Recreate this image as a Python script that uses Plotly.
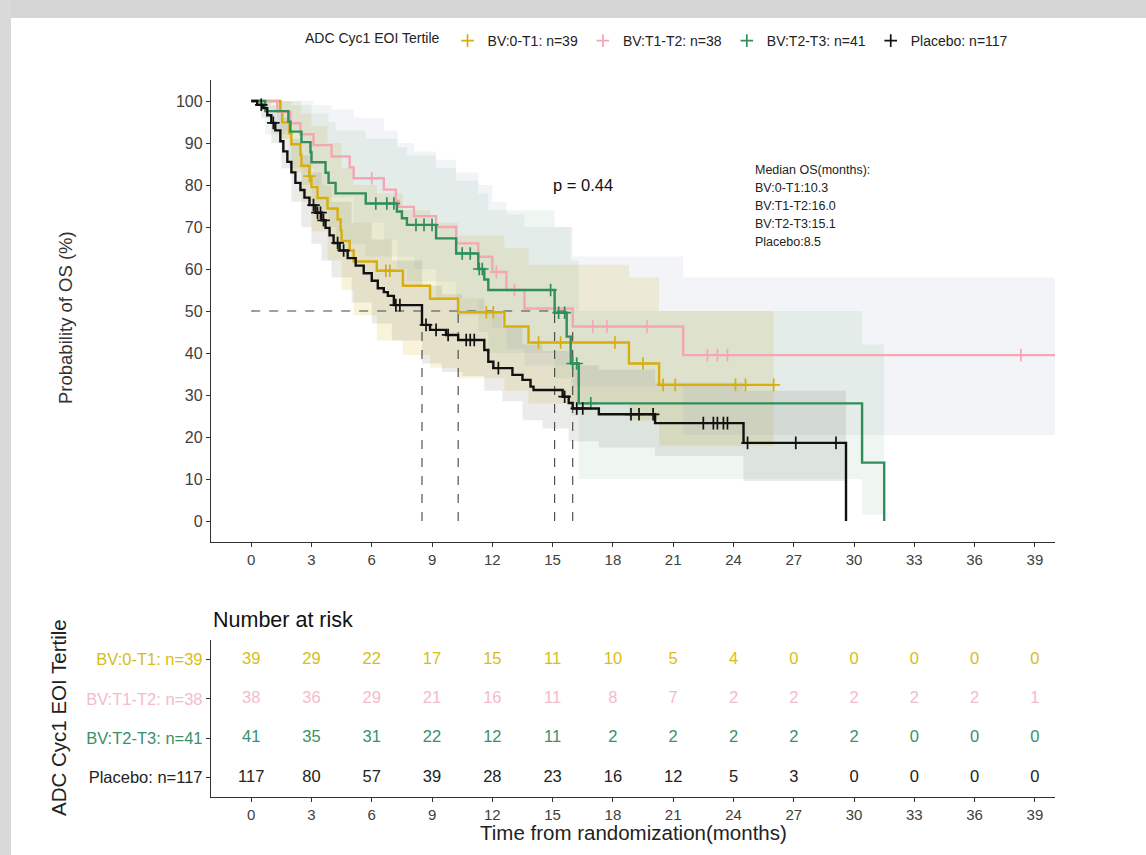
import numpy as np
import plotly.graph_objects as go

W, H = 1146, 855

# ---------------- survival data (months, % surviving) ----------------
groups = ["BV:0-T1: n=39", "BV:T1-T2: n=38", "BV:T2-T3: n=41", "Placebo: n=117"]
line_colors = ["#D8AE0C", "#F4A6B7", "#2F8F5B", "#111111"]
band_colors = ["rgba(225,190,60,0.19)", "rgba(170,174,195,0.14)",
               "rgba(80,150,100,0.09)", "rgba(90,90,80,0.12)"]
risk_colors = ["#D6BE16", "#F3BCC9", "#3A9068", "#222222"]

# BV:0-T1
t_low = [0, 1.45, 1.55, 1.9, 2.0, 2.45, 2.5, 2.9, 3.0, 3.3, 3.8, 4.3, 4.45, 4.5,
         4.9, 5.1, 6.25, 7.55, 8.9, 10.3, 12.6, 13.8, 18.8, 20.3]
s_low = [100, 97.4, 94.9, 92.3, 89.7, 87.2, 84.6, 82.1, 79.5, 76.9, 74.4, 71.8, 69.2, 66.7,
         64.4, 61.8, 59.6, 56.0, 52.9, 49.7, 46.3, 42.5, 37.5, 32.4]
end_low = 26.0
cens_low = [2.9, 6.7, 6.9, 11.7, 12.05, 14.3, 15.4, 18.1, 19.5, 20.5, 21.1, 24.1, 24.6, 26.0]

# BV:T1-T2
t_mid = [0, 1.3, 1.95, 2.45, 3.1, 4.0, 4.9, 5.1, 6.6, 7.2, 7.35, 8.1, 9.2, 10.2,
         11.3, 12.0, 12.7, 13.6, 16.0, 21.5]
s_mid = [100, 97.4, 94.7, 92.1, 89.5, 86.8, 84.2, 81.6, 78.9, 76.2, 74.8, 72.6, 70.0, 66.1,
         62.9, 59.3, 55.0, 50.6, 46.3, 39.5]
end_mid = 40.4
cens_mid = [6.0, 12.2, 13.1, 17.0, 17.7, 19.7, 22.7, 23.2, 23.7, 38.3, 40.4]

# BV:T2-T3
t_high = [0, 0.7, 1.85, 1.95, 2.5, 2.95, 3.0, 3.7, 3.85, 4.2, 5.7, 7.25, 7.5, 7.75,
          9.2, 10.2, 11.3, 11.6, 11.8, 15.1, 15.7, 15.9, 16.3, 30.4, 31.5]
s_high = [100, 97.6, 95.1, 92.7, 90.2, 87.8, 85.4, 82.9, 80.5, 78.0, 75.6, 73.7, 72.1, 70.5,
          67.3, 63.7, 60.0, 57.5, 55.0, 49.6, 43.9, 37.5, 28.0, 13.9, 0]
end_high = 31.5
cens_high = [6.2, 6.75, 7.1, 8.2, 8.6, 9.0, 10.5, 10.9, 11.35, 11.5, 14.9, 15.3, 15.6,
             16.0, 16.2, 16.9]

# Placebo
t_pbo = [0, 0.3, 0.6, 0.8, 1.0, 1.2, 1.45, 1.6, 1.8, 2.0, 2.2, 2.45, 2.65, 2.9, 3.2, 3.5,
         3.7, 3.9, 4.1, 4.4, 4.8, 5.2, 5.6, 6.0, 6.3, 6.6, 6.8, 7.1, 8.5, 8.9, 9.7, 10.3,
         11.6, 11.8, 12.05, 13.0, 13.5, 13.9, 14.05, 15.5, 15.8, 16.0, 17.3, 20.1, 24.5, 29.6]
s_pbo = [100, 99.1, 98.3, 96.6, 94.8, 93.0, 90.4, 88.0, 85.5, 83.0, 80.5, 78.8, 77.0, 75.2,
         73.4, 71.6, 69.8, 68.0, 66.2, 64.4, 62.6, 60.8, 59.0, 57.2, 55.4, 54.5, 53.6, 51.4,
         46.7, 45.5, 44.3, 43.1, 40.7, 37.9, 36.4, 34.8, 33.6, 32.0, 31.2, 29.6, 28.1, 26.8,
         25.4, 23.3, 18.6, 0]
end_pbo = 29.6
cens_pbo = [0.5, 1.1, 3.1, 3.3, 3.45, 3.6, 4.3, 4.6, 7.2, 7.4, 8.7, 9.2, 9.8, 10.7, 10.9,
            11.1, 12.3, 15.6, 16.2, 16.5, 18.9, 19.3, 20.0, 22.5, 23.0, 23.2, 23.5, 23.7,
            24.7, 27.1, 29.1]

# 95% confidence bands (step start, lower, upper)
ci_low_t = [0, 1.45, 2.0, 2.5, 3.0, 3.8, 4.5, 5.1, 6.25, 7.55, 8.9, 10.3, 12.6, 13.8, 18.8, 20.3]
ci_low_lo = [100, 91, 83, 76, 69, 62, 55, 49, 43, 39.5, 36.5, 34, 31, 28, 24, 18]
ci_low_hi = [100, 100, 99, 97, 94, 90, 84, 80, 78, 74, 71, 68, 65, 61, 58, 50]

ci_mid_t = [0, 1.3, 2.5, 3.1, 4.0, 5.1, 6.6, 7.3, 8.1, 9.2, 10.2, 11.3, 12.0, 12.7, 13.6, 16.0, 21.5]
ci_mid_lo = [100, 93, 84, 80, 77, 71, 67, 63, 60, 57, 53, 49, 46, 41, 37, 32, 20.5]
ci_mid_hi = [100, 100, 100, 99, 98, 96, 93, 90, 88, 86, 83, 80, 76, 73, 70, 63, 58]

ci_high_t = [0, 0.7, 1.9, 2.5, 3.0, 3.85, 4.2, 5.7, 7.25, 7.75, 9.2, 10.2, 11.3, 11.8, 15.1,
             15.9, 16.3, 30.4]
ci_high_lo = [100, 92, 84, 80, 74, 70, 66, 63, 60, 57, 53, 49, 45, 40, 34, 25, 10, 1.5]
ci_high_hi = [100, 100, 100, 99, 97, 95, 93, 91, 89, 87, 84, 81, 78, 74, 70, 62, 50, 42]

ci_pbo_t = [0, 0.5, 1.0, 1.5, 2.0, 2.5, 3.0, 3.5, 4.0, 5.0, 6.0, 7.0, 8.5, 9.5, 10.5, 11.6,
            12.5, 13.5, 14.5, 15.8, 17.3, 20.1, 24.5]
ci_pbo_lo = [100, 96, 90, 84, 76, 70, 66, 62, 58, 52, 47, 43, 37.5, 35.5, 34.5, 31, 28.5,
             24, 22, 19, 17.5, 15.5, 9.5]
ci_pbo_hi = [100, 100, 99, 96, 91, 87, 83, 80, 76, 71, 67, 62, 56, 54, 53, 50, 46, 42, 40.5,
             37, 36, 33, 31]

medians = [10.3, 16.0, 15.1, 8.5]
p_text = "p = 0.44"

# Number at risk
risk_times = [0, 3, 6, 9, 12, 15, 18, 21, 24, 27, 30, 33, 36, 39]
risk_low = [39, 29, 22, 17, 15, 11, 10, 5, 4, 0, 0, 0, 0, 0]
risk_mid = [38, 36, 29, 21, 16, 11, 8, 7, 2, 2, 2, 2, 2, 1]
risk_high = [41, 35, 31, 22, 12, 11, 2, 2, 2, 2, 2, 0, 0, 0]
risk_pbo = [117, 80, 57, 39, 28, 23, 16, 12, 5, 3, 0, 0, 0, 0]

x_ticks = list(range(0, 40, 3))
y_ticks = list(range(0, 101, 10))

curves = [(t_low, s_low, end_low, cens_low), (t_mid, s_mid, end_mid, cens_mid),
          (t_high, s_high, end_high, cens_high), (t_pbo, s_pbo, end_pbo, cens_pbo)]
bands = [(ci_low_t, ci_low_lo, ci_low_hi, end_low), (ci_mid_t, ci_mid_lo, ci_mid_hi, end_mid),
         (ci_high_t, ci_high_lo, ci_high_hi, end_high), (ci_pbo_t, ci_pbo_lo, ci_pbo_hi, end_pbo)]
risks = [risk_low, risk_mid, risk_high, risk_pbo]


def step_path(t, v, t_end):
    xs, ys = [], []
    for i in range(len(t)):
        x1 = t[i + 1] if i + 1 < len(t) else t_end
        xs += [t[i], x1]
        ys += [v[i], v[i]]
    return xs, ys


FONT = "Liberation Sans, Arial, sans-serif"
fig = go.Figure()

# confidence bands
for (bt, lo, hi, tend), col in zip(bands, band_colors):
    xu, yu = step_path(bt, hi, tend)
    xl, yl = step_path(bt, lo, tend)
    fig.add_trace(go.Scatter(x=xu + xl[::-1], y=yu + yl[::-1], fill="toself",
                             fillcolor=col, line=dict(width=0), mode="lines",
                             hoverinfo="skip", showlegend=False))

# median reference lines
fig.add_trace(go.Scatter(x=[0, max(medians)], y=[50, 50], mode="lines",
                         line=dict(color="#444444", width=1.1, dash="dash"),
                         showlegend=False, hoverinfo="skip"))
for m in medians:
    fig.add_trace(go.Scatter(x=[m, m], y=[0, 50], mode="lines",
                             line=dict(color="#444444", width=1.1, dash="dash"),
                             showlegend=False, hoverinfo="skip"))

# survival curves and censor marks
for (t, s, tend, cens), col, name in zip(curves, line_colors, groups):
    xs = list(t) + ([tend] if t[-1] < tend else [])
    ys = list(s) + ([s[-1]] if t[-1] < tend else [])
    fig.add_trace(go.Scatter(x=xs, y=ys, mode="lines", line=dict(color=col, width=2.4, shape="hv"),
                             showlegend=False, hoverinfo="skip"))
    idx = np.searchsorted(np.array(t), np.array(cens), side="right") - 1
    cy = [s[i] for i in idx]
    fig.add_trace(go.Scatter(x=cens, y=cy, mode="markers", name=name,
                             marker=dict(symbol="cross-thin", size=9, color=col,
                                         line=dict(color=col, width=1.7)),
                             showlegend=True))

# risk table
row_pos = [4, 3, 2, 1]
for rvals, col, rp in zip(risks, risk_colors, row_pos):
    fig.add_trace(go.Scatter(x=risk_times, y=[rp] * len(risk_times), mode="text",
                             text=[str(v) for v in rvals], xaxis="x2", yaxis="y2",
                             textfont=dict(family=FONT, size=16.5, color=col),
                             showlegend=False, hoverinfo="skip"))

XD = [211 / W, 1055 / W]
axis_common = dict(showline=True, linecolor="#333333", linewidth=1.3, ticks="outside",
                   ticklen=4, tickcolor="#333333", showgrid=False, zeroline=False)
tick_font = dict(family=FONT, size=15, color="#404040")

fig.update_layout(
    width=W, height=H, margin=dict(l=0, r=0, t=0, b=0),
    paper_bgcolor="white", plot_bgcolor="white",
    xaxis=dict(domain=XD, range=[-2, 40], tickvals=x_ticks, anchor="y",
               tickfont=tick_font, **axis_common),
    yaxis=dict(domain=[1 - 542 / H, 1 - 80 / H], range=[-5, 105], tickvals=y_ticks,
               anchor="x", tickfont=dict(family=FONT, size=16, color="#404040"), **axis_common),
    xaxis2=dict(domain=XD, range=[-2, 40], tickvals=x_ticks, anchor="y2",
                tickfont=tick_font, **axis_common),
    yaxis2=dict(domain=[1 - 797 / H, 1 - 640 / H], range=[0.5, 4.5], tickvals=row_pos,
                ticktext=[f"<span style='color:{c}'>{g}</span>" for g, c in zip(groups, risk_colors)],
                anchor="x2", tickfont=dict(family=FONT, size=16.5), **axis_common),
    legend=dict(orientation="h", x=658 / W, xanchor="center", y=1 - 41 / H, yanchor="middle",
                font=dict(family=FONT, size=14, color="#222222"),
                title=dict(text="ADC Cyc1 EOI Tertile", side="left",
                           font=dict(family=FONT, size=14, color="#222222")),
                bgcolor="rgba(0,0,0,0)", itemwidth=30, tracegroupgap=0),
    showlegend=True,
)


def note(text, x, y, size, color="#222222", xanchor="center", angle=0, xref="paper", yref="paper"):
    return dict(text=text, x=x, y=y, xref=xref, yref=yref, xanchor=xanchor, yanchor="middle",
                textangle=angle, showarrow=False, font=dict(family=FONT, size=size, color=color))


ann = [
    note("Probability of OS (%)", 65 / W, 1 - 318 / H, 18.5, "#333333", angle=-90),
    note("ADC Cyc1 EOI Tertile", 58 / W, 1 - 718 / H, 20.5, "#222222", angle=-90),
    note("Number at risk", 211 / W, 1 - 620 / H, 21.5, "#111111", xanchor="left"),
    note("Time from randomization(months)", 633 / W, 1 - 832 / H, 20.5, "#222222"),
    note(p_text, 16.5, 80, 16.5, "#111111", xref="x", yref="y"),
]
median_lines = ["Median OS(months):"] + [f"{g.split(': n')[0]}:{m}" for g, m in zip(groups, medians)]
for i, txt in enumerate(median_lines):
    ann.append(note(txt, 753 / W, 1 - (170 + 18.1 * i) / H, 12.5, "#222222", xanchor="left"))
fig.update_layout(annotations=ann)

# page frame
fig.update_layout(shapes=[
    dict(type="rect", xref="paper", yref="paper", x0=0, x1=1, y0=1 - 18 / H, y1=1,
         fillcolor="#d5d5d5", line=dict(width=0), layer="above"),
    dict(type="rect", xref="paper", yref="paper", x0=0, x1=11 / W, y0=0, y1=1,
         fillcolor="#d9d9d9", line=dict(width=0), layer="above"),
])

fig.write_html("out.html")
